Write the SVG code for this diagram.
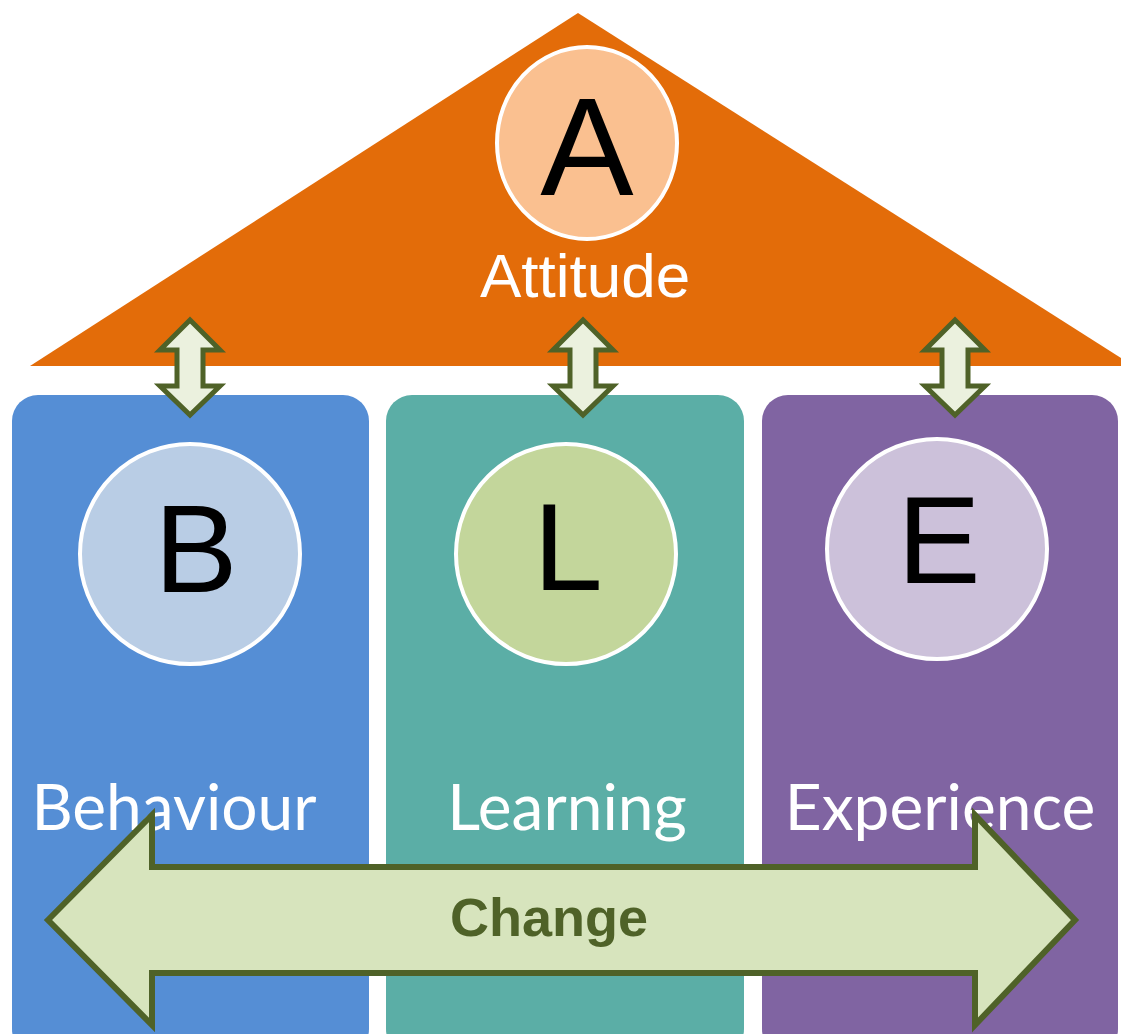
<svg xmlns="http://www.w3.org/2000/svg" width="1121" height="1034" viewBox="0 0 1121 1034">
<style>
.ring{stroke:#FFFFFF;stroke-width:4}
.letter{font-family:"Liberation Sans",Arial,sans-serif;fill:#000000;text-anchor:middle}
.label{font-family:Lato,"Open Sans",sans-serif;fill:#FFFFFF;text-anchor:middle;font-size:64px}
.varrow{fill:#EBF1DE;stroke:#4F6228;stroke-width:5;stroke-linejoin:miter}
.harrow{fill:#D7E4BD;stroke:#4F6228;stroke-width:6;stroke-linejoin:miter}
</style>
<rect width="1121" height="1034" fill="#FFFFFF"/>
<g id="attitude">
<polygon points="578,13 30,366 1121,366 1121,358" fill="#E36C09"/>
<ellipse class="ring" cx="587" cy="143" rx="90" ry="96" fill="#FAC090"/>
<text class="letter" x="587" y="195" font-size="140">A</text>
<text x="585" y="297" font-family="Liberation Sans,Arial,sans-serif" font-size="62" fill="#FFFFFF" text-anchor="middle">Attitude</text>
</g>
<g id="behaviour">
<rect x="12" y="395" width="357" height="660" rx="26" fill="#558ED5"/>
<circle class="ring" cx="190" cy="554" r="110" fill="#B9CDE5"/>
<text class="letter" x="196" y="592" font-size="125">B</text>
<text class="label" x="174" y="830">Behaviour</text>
</g>
<g id="learning">
<rect x="386" y="395" width="358" height="660" rx="26" fill="#5BAEA6"/>
<circle class="ring" cx="566" cy="554" r="110" fill="#C3D69B"/>
<text class="letter" x="568" y="590" font-size="125">L</text>
<text class="label" x="567" y="830">Learning</text>
</g>
<g id="experience">
<rect x="762" y="395" width="356" height="660" rx="26" fill="#8064A2"/>
<circle class="ring" cx="937" cy="549" r="110" fill="#CCC1DA"/>
<text class="letter" x="939" y="583" font-size="125">E</text>
<text class="label" x="940" y="830" font-size="62">Experience</text>
</g>
<g id="connectors">
<polygon class="varrow" points="190,320 220,350 203,350 203,386 220,386 190,415 160,386 177,386 177,350 160,350"/>
<polygon class="varrow" points="583,320 613,350 596,350 596,386 613,386 583,415 553,386 570,386 570,350 553,350"/>
<polygon class="varrow" points="955,320 985,350 968,350 968,386 985,386 955,415 925,386 942,386 942,350 925,350"/>
<g id="change">
<polygon class="harrow" points="48,920 152,815 152,867 975,867 975,815 1075,920 975,1025 975,973 152,973 152,1025"/>
<text x="549" y="936" font-family="Liberation Sans,Arial,sans-serif" font-weight="bold" font-size="54" fill="#4F6228" text-anchor="middle">Change</text>
</g>
</g>
</svg>
